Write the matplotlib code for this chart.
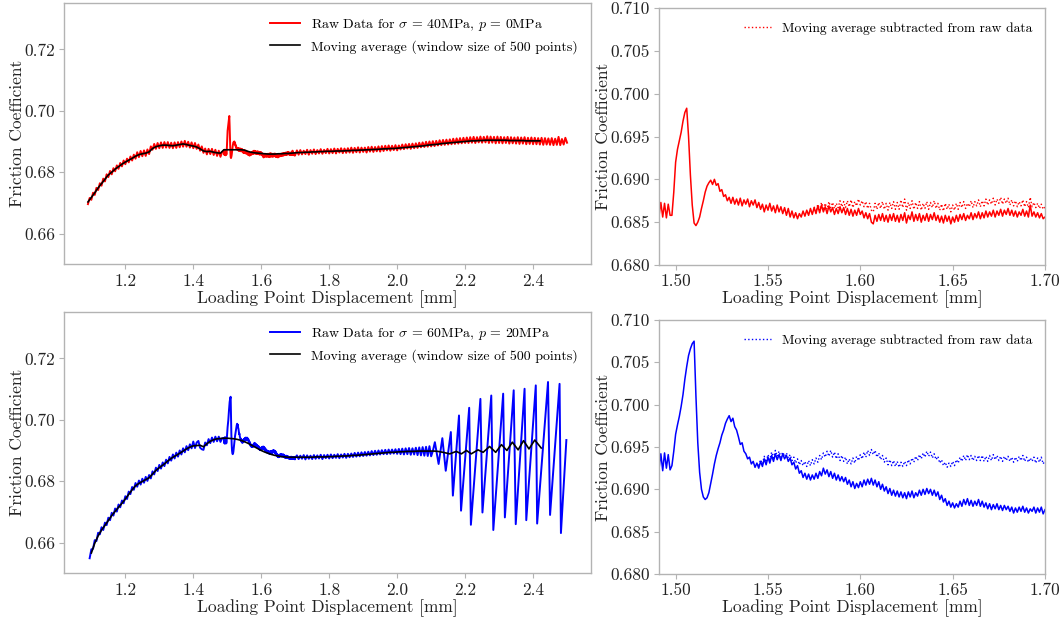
import numpy as np
import matplotlib
matplotlib.use("Agg")
import matplotlib.pyplot as plt

plt.rcParams.update({
    "font.family": "serif",
    "font.serif": ["cmr10"],
    "mathtext.fontset": "cm",
    "axes.formatter.use_mathtext": True,
    "axes.unicode_minus": False,
})

# ---------------------------------------------------------------- data
# Sampling steps of the loading-point displacement [mm]
COARSE = 0.005
FINE = 0.001
MA_STEP = 0.01

# --- Test A: sigma = 40 MPa, p = 0 MPa ------------------------------
top_pre_start = 1.090
top_pre_mu = [
    0.6696, 0.6716, 0.6710, 0.6733, 0.6726, 0.6749, 0.6742, 0.6764, 0.6756, 0.6779,
    0.6770, 0.6793, 0.6784, 0.6804, 0.6793, 0.6813, 0.6803, 0.6822, 0.6811, 0.6830,
    0.6819, 0.6838, 0.6826, 0.6844, 0.6832, 0.6851, 0.6838, 0.6857, 0.6844, 0.6865,
    0.6849, 0.6869, 0.6852, 0.6871, 0.6853, 0.6874, 0.6859, 0.6884, 0.6873, 0.6892,
    0.6876, 0.6895, 0.6878, 0.6897, 0.6879, 0.6898, 0.6880, 0.6898, 0.6879, 0.6896,
    0.6878, 0.6897, 0.6879, 0.6898, 0.6881, 0.6900, 0.6883, 0.6902, 0.6883, 0.6899,
    0.6880, 0.6897, 0.6878, 0.6895, 0.6876, 0.6890, 0.6870, 0.6884, 0.6863, 0.6877,
    0.6858, 0.6876, 0.6859, 0.6876, 0.6856, 0.6873, 0.6853, 0.6870, 0.6850, 0.6866,
]

zoom_start = 1.490
top_zoom_mu = [
    0.6870, 0.6857, 0.6873, 0.6856, 0.6872, 0.6855, 0.6871, 0.6858,
    0.6858, 0.6885, 0.6920, 0.6935, 0.6945, 0.6955, 0.6968, 0.6978, 0.6983, 0.6950,
    0.6905, 0.6870, 0.6849, 0.6846, 0.6850, 0.6856, 0.6866, 0.6875, 0.6885, 0.6892,
    0.6896, 0.6899, 0.6894, 0.6900, 0.6893, 0.6895, 0.6886, 0.6888, 0.6880, 0.6882,
    0.6875, 0.6879,
    0.6872, 0.6879, 0.6871, 0.6877, 0.6870, 0.6878, 0.6869, 0.6876, 0.6871, 0.6877, 0.6868, 0.6875, 0.6870, 0.6876, 0.6867,
    0.6873, 0.6865, 0.6871, 0.6862, 0.6870, 0.6864, 0.6872, 0.6863, 0.6869, 0.6861, 0.6870, 0.6862, 0.6868, 0.6860, 0.6867,
    0.6858, 0.6866, 0.6856, 0.6863, 0.6855, 0.6861, 0.6854, 0.6860, 0.6856, 0.6863, 0.6857, 0.6864, 0.6858, 0.6866, 0.6859,
    0.6867, 0.6860, 0.6869, 0.6861, 0.6870, 0.6862, 0.6868, 0.6860, 0.6869, 0.6862, 0.6867, 0.6859, 0.6866, 0.6860, 0.6868,
    0.6861, 0.6867, 0.6859, 0.6866, 0.6858, 0.6865, 0.6857, 0.6864, 0.6858, 0.6866, 0.6859, 0.6863, 0.6855, 0.6861, 0.6854,
    0.6860, 0.6850, 0.6848, 0.6858, 0.6851, 0.6859, 0.6852, 0.6860, 0.6851, 0.6858, 0.6850, 0.6859, 0.6852, 0.6860, 0.6851,
    0.6858, 0.6850, 0.6859, 0.6852, 0.6861, 0.6849, 0.6858, 0.6853, 0.6862, 0.6851, 0.6859, 0.6852, 0.6860, 0.6850, 0.6858,
    0.6852, 0.6860, 0.6851, 0.6859, 0.6853, 0.6861, 0.6852, 0.6858, 0.6850, 0.6857, 0.6849, 0.6858, 0.6851, 0.6857, 0.6848,
    0.6856, 0.6850, 0.6858, 0.6851, 0.6859, 0.6853, 0.6860, 0.6852, 0.6858, 0.6854, 0.6861, 0.6853, 0.6860, 0.6855, 0.6862,
    0.6854, 0.6861, 0.6855, 0.6863, 0.6856, 0.6862, 0.6857, 0.6864, 0.6856, 0.6863, 0.6858, 0.6865, 0.6857, 0.6864, 0.6859,
    0.6866, 0.6858, 0.6864, 0.6857, 0.6863, 0.6856, 0.6862, 0.6858, 0.6865, 0.6857, 0.6863, 0.6856, 0.6870, 0.6857, 0.6862,
    0.6856, 0.6861, 0.6855, 0.6860, 0.6854, 0.6856,
]

top_post_start = 1.705
top_post_mu = [
    0.6871, 0.6857, 0.6872, 0.6858, 0.6870, 0.6859, 0.6873, 0.6857, 0.6872, 0.6860,
    0.6874, 0.6859, 0.6872, 0.6861, 0.6875, 0.6860, 0.6873, 0.6862, 0.6876, 0.6861,
    0.6875, 0.6862, 0.6877, 0.6861, 0.6876, 0.6864, 0.6878, 0.6862, 0.6877, 0.6863,
    0.6878, 0.6864, 0.6880, 0.6863, 0.6879, 0.6865, 0.6881, 0.6864, 0.6880, 0.6866,
    0.6880, 0.6864, 0.6882, 0.6867, 0.6883, 0.6866, 0.6882, 0.6868, 0.6884, 0.6867,
    0.6885, 0.6869, 0.6886, 0.6871, 0.6887, 0.6870, 0.6886, 0.6872, 0.6888, 0.6871,
    0.6887, 0.6874, 0.6890, 0.6875, 0.6891, 0.6877, 0.6892, 0.6876, 0.6893, 0.6878,
    0.6894, 0.6879, 0.6896, 0.6881, 0.6897, 0.6882, 0.6899, 0.6883, 0.6900, 0.6884,
    0.6901, 0.6885, 0.6902, 0.6887, 0.6904, 0.6888, 0.6905, 0.6889, 0.6906, 0.6890,
    0.6907, 0.6891, 0.6909, 0.6892, 0.6910, 0.6893, 0.6911, 0.6894, 0.6912, 0.6895,
    0.6913, 0.6895, 0.6914, 0.6896, 0.6915, 0.6895, 0.6914, 0.6897, 0.6916, 0.6896,
    0.6915, 0.6897, 0.6917, 0.6895, 0.6916, 0.6896, 0.6915, 0.6894, 0.6916, 0.6895,
    0.6915, 0.6894, 0.6914, 0.6895, 0.6915, 0.6893, 0.6914, 0.6894, 0.6913, 0.6893,
    0.6914, 0.6892, 0.6913, 0.6893, 0.6914, 0.6891, 0.6912, 0.6892, 0.6913, 0.6891,
    0.6912, 0.6891, 0.6911, 0.6890, 0.6912, 0.6889, 0.6911, 0.6890, 0.6910, 0.6889,
    0.6911, 0.6888, 0.6909, 0.6889, 0.6915, 0.6888, 0.6908, 0.6890, 0.6912, 0.6896,
]

top_ma_start = 1.09
top_ma = [
    0.6703, 0.6718, 0.6733, 0.6749, 0.6763, 0.6777, 0.6791, 0.6800, 0.6810, 0.6818,
    0.6826, 0.6833, 0.6839, 0.6845, 0.6852, 0.6857, 0.6860, 0.6862, 0.6866, 0.6877,
    0.6883, 0.6886, 0.6888, 0.6888, 0.6887, 0.6886, 0.6888, 0.6890, 0.6892, 0.6890,
    0.6887, 0.6885, 0.6882, 0.6876, 0.6869, 0.6867, 0.6868, 0.6865, 0.6863, 0.6862,
    0.6873, 0.6873, 0.6873, 0.6873, 0.6873, 0.6873, 0.6872, 0.6868, 0.6865, 0.6863,
    0.6862, 0.6861, 0.6860, 0.6859, 0.6859, 0.6859, 0.6860, 0.6860, 0.6861, 0.6861,
    0.6862, 0.6863, 0.6864, 0.6864, 0.6865, 0.6865, 0.6866, 0.6866, 0.6867, 0.6867,
    0.6868, 0.6868, 0.6868, 0.6869, 0.6869, 0.6869, 0.6870, 0.6870, 0.6871, 0.6871,
    0.6872, 0.6872, 0.6873, 0.6873, 0.6874, 0.6874, 0.6875, 0.6876, 0.6876, 0.6877,
    0.6877, 0.6878, 0.6879, 0.6880, 0.6881, 0.6882, 0.6883, 0.6884, 0.6885, 0.6886,
    0.6888, 0.6889, 0.6890, 0.6891, 0.6893, 0.6894, 0.6895, 0.6896, 0.6897, 0.6898,
    0.6899, 0.6900, 0.6901, 0.6902, 0.6902, 0.6903, 0.6903, 0.6904, 0.6904, 0.6904,
    0.6904, 0.6904, 0.6904, 0.6904, 0.6903, 0.6903, 0.6903, 0.6903, 0.6903, 0.6902,
    0.6902, 0.6902, 0.6902, 0.6902,
]

top_detr_start = 1.575
top_detrended = [
    0.6868, 0.6862, 0.6871, 0.6864, 0.6873, 0.6866, 0.6872, 0.6865, 0.6874, 0.6867, 0.6873, 0.6866, 0.6872, 0.6867, 0.6875,
    0.6868, 0.6874, 0.6867, 0.6875, 0.6868, 0.6876, 0.6867, 0.6874, 0.6869, 0.6877, 0.6870, 0.6875, 0.6868, 0.6874, 0.6866,
    0.6872, 0.6864, 0.6862, 0.6872, 0.6865, 0.6873, 0.6866, 0.6874, 0.6865, 0.6872, 0.6864, 0.6873, 0.6866, 0.6874, 0.6865,
    0.6873, 0.6865, 0.6876, 0.6867, 0.6877, 0.6864, 0.6873, 0.6866, 0.6875, 0.6865, 0.6873, 0.6866, 0.6874, 0.6864, 0.6872,
    0.6866, 0.6874, 0.6865, 0.6873, 0.6867, 0.6875, 0.6866, 0.6872, 0.6864, 0.6871, 0.6863, 0.6872, 0.6865, 0.6871, 0.6862,
    0.6870, 0.6864, 0.6872, 0.6865, 0.6873, 0.6867, 0.6874, 0.6866, 0.6872, 0.6868, 0.6875, 0.6867, 0.6874, 0.6869, 0.6876,
    0.6868, 0.6875, 0.6869, 0.6877, 0.6870, 0.6876, 0.6871, 0.6878, 0.6870, 0.6877, 0.6872, 0.6879, 0.6871, 0.6877, 0.6872,
    0.6878, 0.6870, 0.6876, 0.6869, 0.6875, 0.6868, 0.6874, 0.6869, 0.6876, 0.6868, 0.6874, 0.6867, 0.6879, 0.6868, 0.6873,
    0.6867, 0.6872, 0.6866, 0.6871, 0.6865, 0.6868,
]

# --- Test B: sigma = 60 MPa, p = 20 MPa -----------------------------
bot_pre_start = 1.095
bot_pre_mu = [
    0.6549, 0.6578, 0.6580, 0.6608, 0.6605, 0.6632, 0.6627, 0.6650, 0.6641, 0.6665,
    0.6657, 0.6681, 0.6673, 0.6697, 0.6688, 0.6711, 0.6701, 0.6724, 0.6715, 0.6737,
    0.6728, 0.6751, 0.6742, 0.6766, 0.6758, 0.6781, 0.6772, 0.6794, 0.6782, 0.6802,
    0.6789, 0.6808, 0.6795, 0.6814, 0.6801, 0.6820, 0.6809, 0.6832, 0.6822, 0.6844,
    0.6833, 0.6853, 0.6841, 0.6861, 0.6849, 0.6870, 0.6858, 0.6879, 0.6867, 0.6887,
    0.6874, 0.6893, 0.6880, 0.6900, 0.6887, 0.6907, 0.6894, 0.6914, 0.6901, 0.6920,
    0.6907, 0.6929, 0.6908, 0.6926, 0.6931, 0.6909, 0.6904, 0.6902, 0.6926, 0.6917,
    0.6937, 0.6924, 0.6942, 0.6928, 0.6945, 0.6930, 0.6945, 0.6928, 0.6940,
]

bot_zoom_mu = [
    0.6940, 0.6924, 0.6942, 0.6922, 0.6943, 0.6925, 0.6941, 0.6923,
    0.6928, 0.6945, 0.6965, 0.6976, 0.6986, 0.6998, 0.7012, 0.7030, 0.7045, 0.7058,
    0.7066, 0.7072, 0.7075, 0.7010, 0.6955, 0.6920, 0.6900, 0.6891, 0.6888, 0.6890,
    0.6896, 0.6907, 0.6918, 0.6930, 0.6940, 0.6948, 0.6955, 0.6964, 0.6970, 0.6978,
    0.6983, 0.6987, 0.6980, 0.6984, 0.6974, 0.6970, 0.6962, 0.6953, 0.6955, 0.6945,
    0.6942, 0.6936, 0.6938, 0.6930, 0.6933, 0.6926, 0.6931,
    0.6925, 0.6933, 0.6927, 0.6936, 0.6929, 0.6938, 0.6931, 0.6940, 0.6933, 0.6942, 0.6935, 0.6941, 0.6934, 0.6942, 0.6936,
    0.6940, 0.6933, 0.6937, 0.6929, 0.6932, 0.6924, 0.6928, 0.6919, 0.6922, 0.6914, 0.6919, 0.6912, 0.6918, 0.6911, 0.6917,
    0.6912, 0.6919, 0.6913, 0.6921, 0.6916, 0.6925, 0.6918, 0.6923, 0.6915, 0.6921, 0.6913, 0.6919, 0.6911, 0.6917, 0.6910,
    0.6915, 0.6909, 0.6914, 0.6906, 0.6911, 0.6903, 0.6909, 0.6901, 0.6907, 0.6902, 0.6909, 0.6903, 0.6911, 0.6905, 0.6912,
    0.6906, 0.6913, 0.6905, 0.6911, 0.6903, 0.6909, 0.6900, 0.6906, 0.6898, 0.6903, 0.6895, 0.6901, 0.6893, 0.6899, 0.6892,
    0.6898, 0.6891, 0.6897, 0.6890, 0.6896, 0.6889, 0.6897, 0.6891, 0.6898, 0.6890, 0.6896, 0.6892, 0.6899, 0.6893, 0.6900,
    0.6894, 0.6901, 0.6895, 0.6900, 0.6893, 0.6899, 0.6892, 0.6897, 0.6888, 0.6893, 0.6885, 0.6889, 0.6881, 0.6886, 0.6879,
    0.6884, 0.6878, 0.6883, 0.6879, 0.6886, 0.6880, 0.6888, 0.6882, 0.6889, 0.6881, 0.6887, 0.6880, 0.6886, 0.6881, 0.6888,
    0.6880, 0.6886, 0.6879, 0.6884, 0.6877, 0.6883, 0.6876, 0.6882, 0.6877, 0.6883, 0.6876, 0.6881, 0.6875, 0.6881, 0.6876,
    0.6880, 0.6874, 0.6879, 0.6872, 0.6878, 0.6873, 0.6879, 0.6874, 0.6880, 0.6873, 0.6878, 0.6872, 0.6877, 0.6874, 0.6879,
    0.6872, 0.6878, 0.6873, 0.6879, 0.6871, 0.6876,
]

bot_mid_start = 1.705
bot_mid_mu = [
    0.6884, 0.6872, 0.6883, 0.6873, 0.6885, 0.6871, 0.6884, 0.6873, 0.6883, 0.6872,
    0.6885, 0.6873, 0.6884, 0.6874, 0.6886, 0.6872, 0.6885, 0.6875, 0.6886, 0.6874,
    0.6887, 0.6875, 0.6886, 0.6876, 0.6888, 0.6875, 0.6887, 0.6877, 0.6889, 0.6876,
    0.6889, 0.6878, 0.6890, 0.6879, 0.6892, 0.6880, 0.6893, 0.6881, 0.6894, 0.6882,
    0.6895, 0.6883, 0.6896, 0.6884, 0.6898, 0.6885, 0.6899, 0.6886, 0.6900, 0.6887,
    0.6901, 0.6888, 0.6902, 0.6888, 0.6903, 0.6889, 0.6903, 0.6890, 0.6904, 0.6889,
    0.6905, 0.6888, 0.6906, 0.6887, 0.6907, 0.6888, 0.6908, 0.6886, 0.6907, 0.6887,
    0.6909, 0.6885, 0.6910, 0.6884, 0.6911, 0.6883, 0.6912, 0.6882, 0.6914, 0.6881,
]

# Stick-slip cycles: turning points (peaks and troughs)
bot_slip_x = [2.105, 2.111, 2.122, 2.133, 2.143, 2.158, 2.164, 2.182, 2.188, 2.212,
              2.217, 2.245, 2.251, 2.277, 2.283, 2.312, 2.317, 2.343, 2.349, 2.375,
              2.380, 2.408, 2.412, 2.444, 2.450, 2.478, 2.482, 2.498]
bot_slip_mu = [0.6898, 0.6927, 0.6856, 0.6940, 0.6834, 0.6960, 0.6753, 0.7014, 0.6704, 0.7039,
               0.6658, 0.7068, 0.6698, 0.7079, 0.6641, 0.7085, 0.6682, 0.7096, 0.6660, 0.7101,
               0.6673, 0.7112, 0.6662, 0.7123, 0.6690, 0.7117, 0.6631, 0.6934]

bot_ma_start = 1.10
bot_ma_smooth = [
    0.6566, 0.6598, 0.6622, 0.6641, 0.6656, 0.6672, 0.6688, 0.6702, 0.6715, 0.6728,
    0.6742, 0.6757, 0.6772, 0.6785, 0.6793, 0.6799, 0.6805, 0.6811, 0.6823, 0.6835,
    0.6844, 0.6852, 0.6861, 0.6870, 0.6878, 0.6884, 0.6891, 0.6898, 0.6905, 0.6911,
    0.6915, 0.6916, 0.6917, 0.6912, 0.6922, 0.6930, 0.6935, 0.6938, 0.6939, 0.6940,
    0.6940, 0.6939, 0.6938, 0.6936, 0.6933, 0.6929, 0.6924, 0.6918, 0.6912, 0.6906,
    0.6900, 0.6895, 0.6891, 0.6887, 0.6884, 0.6882, 0.6880, 0.6879, 0.6878, 0.6878,
    0.6878, 0.6878, 0.6878, 0.6878, 0.6878, 0.6878, 0.6879, 0.6879, 0.6879, 0.6879,
    0.6880, 0.6880, 0.6881, 0.6881, 0.6882, 0.6882, 0.6883, 0.6884, 0.6884, 0.6885,
    0.6886, 0.6887, 0.6888, 0.6889, 0.6890, 0.6891, 0.6892, 0.6893, 0.6894, 0.6894,
    0.6895, 0.6896, 0.6896, 0.6897, 0.6897, 0.6897, 0.6898, 0.6898, 0.6898, 0.6898,
    0.6898, 0.6898, 0.6897,
]
bot_ma_osc_x = [2.135, 2.155, 2.174, 2.189, 2.204, 2.218, 2.238, 2.253, 2.272,
                2.290, 2.307, 2.323, 2.339, 2.356, 2.372, 2.388, 2.405, 2.424]
bot_ma_osc = [0.6894, 0.6889, 0.6897, 0.6889, 0.6900, 0.6889, 0.6902, 0.6894, 0.6913,
              0.6894, 0.6919, 0.6900, 0.6927, 0.6902, 0.6932, 0.6905, 0.6934, 0.6908]

bot_detr_start = 1.545
bot_detrended = [
    0.6928, 0.6935, 0.6930, 0.6939, 0.6932, 0.6941, 0.6935, 0.6944, 0.6937, 0.6946, 0.6939, 0.6945, 0.6938, 0.6944, 0.6939,
    0.6943, 0.6937, 0.6941, 0.6934, 0.6938, 0.6931, 0.6936, 0.6929, 0.6934, 0.6928, 0.6933, 0.6927, 0.6934, 0.6928, 0.6935,
    0.6930, 0.6937, 0.6932, 0.6940, 0.6935, 0.6943, 0.6938, 0.6945, 0.6939, 0.6946, 0.6938, 0.6944, 0.6936, 0.6942, 0.6934,
    0.6940, 0.6933, 0.6938, 0.6930, 0.6936, 0.6930, 0.6937, 0.6931, 0.6939, 0.6934, 0.6941, 0.6936, 0.6944, 0.6938, 0.6946,
    0.6940, 0.6947, 0.6941, 0.6946, 0.6938, 0.6943, 0.6935, 0.6940, 0.6932, 0.6937, 0.6929, 0.6935, 0.6928, 0.6934, 0.6927,
    0.6933, 0.6926, 0.6932, 0.6927, 0.6933, 0.6928, 0.6935, 0.6930, 0.6937, 0.6932, 0.6939, 0.6934, 0.6941, 0.6936, 0.6943,
    0.6938, 0.6945, 0.6939, 0.6944, 0.6937, 0.6942, 0.6935, 0.6939, 0.6931, 0.6935, 0.6928, 0.6932, 0.6926, 0.6931, 0.6927,
    0.6933, 0.6928, 0.6935, 0.6931, 0.6938, 0.6933, 0.6940, 0.6934, 0.6941, 0.6935, 0.6940, 0.6934, 0.6939, 0.6934, 0.6940,
    0.6934, 0.6940, 0.6933, 0.6939, 0.6933, 0.6940, 0.6934, 0.6941, 0.6935, 0.6940, 0.6934, 0.6939, 0.6933, 0.6939, 0.6934,
    0.6939, 0.6933, 0.6938, 0.6932, 0.6938, 0.6933, 0.6939, 0.6934, 0.6940, 0.6933, 0.6938, 0.6932, 0.6937, 0.6933, 0.6938,
    0.6931, 0.6937, 0.6932, 0.6938, 0.6930, 0.6934,
]

label_a = r"Raw Data for $\sigma$ = 40MPa, $p$ = 0MPa"
label_b = r"Raw Data for $\sigma$ = 60MPa, $p$ = 20MPa"
label_ma = "Moving average (window size of 500 points)"
label_detr = "Moving average subtracted from raw data"


def grid(start, step, values):
    """Displacement values for a uniformly sampled record."""
    return start + step * np.arange(len(values))


# Full records for the overview panels
top_x = np.concatenate([grid(top_pre_start, COARSE, top_pre_mu),
                        grid(zoom_start, FINE, top_zoom_mu),
                        grid(top_post_start, COARSE, top_post_mu)])
top_y = np.concatenate([top_pre_mu, top_zoom_mu, top_post_mu])

bot_x = np.concatenate([grid(bot_pre_start, COARSE, bot_pre_mu),
                        grid(zoom_start, FINE, bot_zoom_mu),
                        grid(bot_mid_start, COARSE, bot_mid_mu),
                        bot_slip_x])
bot_y = np.concatenate([bot_pre_mu, bot_zoom_mu, bot_mid_mu, bot_slip_mu])

bot_ma_x = np.concatenate([grid(bot_ma_start, MA_STEP, bot_ma_smooth), bot_ma_osc_x])
bot_ma_y = np.concatenate([bot_ma_smooth, bot_ma_osc])

# ---------------------------------------------------------------- figure
W, H = 1061, 619
fig = plt.figure(figsize=(W / 100, H / 100), dpi=100)


def frame(px_left, px_top, px_right, px_bottom):
    return fig.add_axes([px_left / W, 1 - px_bottom / H,
                         (px_right - px_left) / W, (px_bottom - px_top) / H])


ax_tl = frame(64, 3.3, 591, 264.3)
ax_bl = frame(64, 312.3, 591, 573.3)
ax_tr = frame(659, 8, 1045, 265)
ax_br = frame(659, 320, 1045, 574)

EDGE = "#b3b3b3"
TXT = "#222222"
TICK_FS = 12.5
LABEL_FS = 12.5

for ax in (ax_tl, ax_bl, ax_tr, ax_br):
    for s in ax.spines.values():
        s.set_color(EDGE)
        s.set_linewidth(1.0)
    ax.tick_params(colors=EDGE, labelcolor=TXT, labelsize=TICK_FS,
                   length=3.5, width=0.8, pad=3)
    ax.set_xlabel("Loading Point Displacement [mm]", fontsize=LABEL_FS,
                  color=TXT, labelpad=1)
    ax.set_ylabel("Friction Coefficient", fontsize=LABEL_FS, color=TXT,
                  labelpad=-0.8)

# Overview panels
ax_tl.plot(top_x, top_y, color="#ff0000", lw=1.4, label=label_a)
ax_tl.plot(grid(top_ma_start, MA_STEP, top_ma), top_ma, color="black", lw=1.2,
           label=label_ma)

ax_bl.plot(bot_x, bot_y, color="#0000ff", lw=1.4, label=label_b)
ax_bl.plot(bot_ma_x, bot_ma_y, color="black", lw=1.2, label=label_ma)

for ax in (ax_tl, ax_bl):
    ax.set_xlim(1.0195, 2.5705)
    ax.set_ylim(0.65, 0.735)
    ax.set_xticks([1.2, 1.4, 1.6, 1.8, 2.0, 2.2, 2.4])
    ax.set_xticklabels(["1.2", "1.4", "1.6", "1.8", "2.0", "2.2", "2.4"])
    ax.set_yticks([0.66, 0.68, 0.70, 0.72])
    ax.set_yticklabels(["0.66", "0.68", "0.70", "0.72"])
    ax.legend(loc="upper right", bbox_to_anchor=(0.994, 0.985), frameon=False,
              fontsize=10.0, handlelength=2.2, borderaxespad=0.3,
              labelspacing=0.5)

# Zoomed panels
ax_tr.plot(grid(zoom_start, FINE, top_zoom_mu), top_zoom_mu, color="#ff0000", lw=1.1)
ax_tr.plot(grid(top_detr_start, FINE, top_detrended), top_detrended,
           color="#ff0000", lw=1.0, ls=":", label=label_detr)

ax_br.plot(grid(zoom_start, FINE, bot_zoom_mu), bot_zoom_mu, color="#0000ff", lw=1.1)
ax_br.plot(grid(bot_detr_start, FINE, bot_detrended), bot_detrended,
           color="#0000ff", lw=1.0, ls=":", label=label_detr)

for ax in (ax_tr, ax_br):
    ax.set_xlim(1.491, 1.70)
    ax.set_ylim(0.680, 0.710)
    ax.set_xticks([1.50, 1.55, 1.60, 1.65, 1.70])
    ax.set_xticklabels(["1.50", "1.55", "1.60", "1.65", "1.70"])
    ax.set_yticks([0.680, 0.685, 0.690, 0.695, 0.700, 0.705, 0.710])
    ax.set_yticklabels(["0.680", "0.685", "0.690", "0.695", "0.700", "0.705", "0.710"])
    ax.legend(loc="upper right", bbox_to_anchor=(1.0, 0.992), frameon=False,
              fontsize=9.8, handlelength=2.0, borderaxespad=0.5)

fig.savefig("out.png", dpi=100)
